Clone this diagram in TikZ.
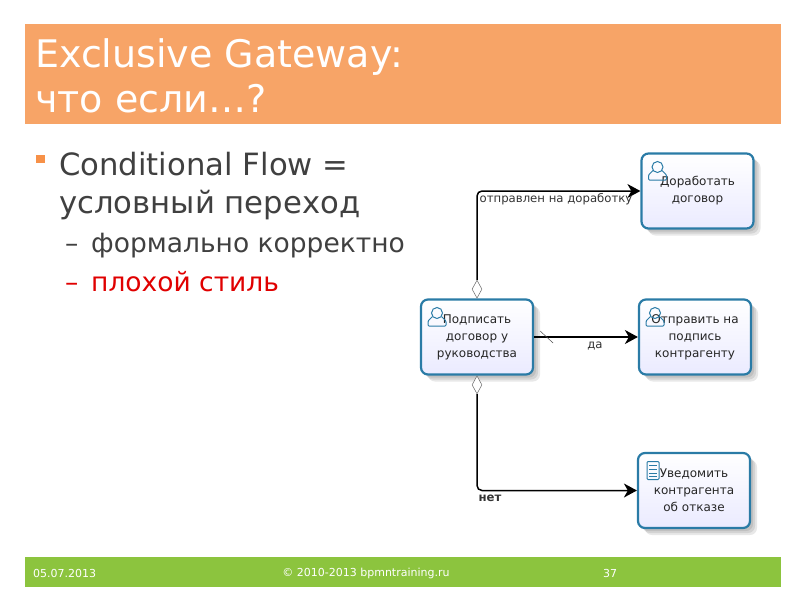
\documentclass[tikz,border=0pt]{standalone}
\usepackage{fontspec}
\setmainfont{DejaVu Sans}
\usetikzlibrary{arrows.meta,shapes.geometric,shadows}

\definecolor{titleorange}{HTML}{F7A467}
\definecolor{footgreen}{HTML}{8CC43E}
\definecolor{bulletorange}{HTML}{F79148}
\definecolor{taskblue}{HTML}{2A7BA6}
\definecolor{bodygray}{HTML}{404040}
\definecolor{stylered}{HTML}{E00000}

\tikzset{
    softshadow/.style={drop shadow={shadow xshift=#1,shadow yshift=-#1,fill=black,opacity=.09}},
    task/.style={draw=taskblue,line width=2.2pt,rounded corners=7pt,
        top color=white,bottom color=blue!8,
        minimum width=112pt,minimum height=75pt,align=center,
        font=\fontsize{12}{17}\selectfont,text=black!85,inner sep=0pt,
        softshadow=7pt,softshadow=5pt,softshadow=3pt},
    flow/.style={draw=black,line width=1.5pt,rounded corners=5pt,
        -{Stealth[length=13pt,width=14pt,inset=4pt]}},
    condmark/.style={diamond,draw=black!60,fill=white,line width=.5pt,
        minimum width=10pt,minimum height=18pt,inner sep=0pt},
    flowlabel/.style={font=\fontsize{11.7}{13}\selectfont,text=black!80,inner sep=0pt},
    titletext/.style={anchor=base west,text=white,inner sep=0pt,font=\fontsize{38}{44}\selectfont},
    bigtext/.style={anchor=base west,text=bodygray,inner sep=0pt,font=\fontsize{30.7}{33}\selectfont},
    subtext/.style={anchor=base west,inner sep=0pt,font=\fontsize{26.5}{28}\selectfont},
    foottext/.style={text=white,inner sep=0pt,font=\fontsize{11}{12}\selectfont},
    icon/.style={draw=taskblue,line width=1pt,rounded corners=1pt},
    usericon/.pic={
        \draw[icon] (-4.5,3.5) -- (-9,8) -- (-9,13) -- (9,13) -- (9,8) -- (4.5,3.5);
        \draw[icon] (0,0) circle (5.5);
    },
    docicon/.pic={
        \draw[icon] (-6,-9) rectangle (6,9);
        \foreach \y in {-5,-1,3,6}
            \draw[taskblue,line width=.6pt] (-4,\y) -- (4,\y);
    }
}

\begin{document}
\begin{tikzpicture}[x=1pt,y=-1pt]
    \useasboundingbox (0,0) rectangle (800,600);

    % шапка и подвал
    \fill[titleorange] (25,24) rectangle (781,124);
    \fill[footgreen] (25,557) rectangle (781,587);
    \node[titletext] (titleone) at (35,67) {Exclusive Gateway:};
    \node[titletext] (titletwo) at (35,112) {что если…?};
    \node[foottext,anchor=west] (footdate) at (33,573) {05.07.2013};
    \node[foottext] (footcopy) at (366,573) {© 2010-2013 bpmntraining.ru};
    \node[foottext] (footpage) at (610,573) {37};

    % текст слева
    \fill[bulletorange] (36,155) rectangle (45,163);
    \node[bigtext] (bigone) at (59,175) {Conditional Flow =};
    \node[bigtext] (bigtwo) at (59,213) {условный переход};
    \node[subtext,text=bodygray] (dashone) at (65,252) {–};
    \node[subtext,text=bodygray] (subone) at (91,252) {формально корректно};
    \node[subtext,text=stylered] (dashtwo) at (65,291) {–};
    \node[subtext,text=stylered] (subtwo) at (91,291) {плохой стиль};

    % задачи
    \node[task] (sign) at (477,337) {Подписать\\договор у\\руководства};
    \node[task] (rework) at (697.5,191) {Доработать\\договор};
    \node[task] (send) at (695,337) {Отправить на\\подпись\\контрагенту};
    \node[task] (notify) at (694,490.5) {Уведомить\\контрагента\\об отказе};

    \foreach \t in {sign,rework,send}
        \pic at ([shift={(-40,-24)}]\t.center) {usericon};
    \pic at ([shift={(-41,-20)}]notify.center) {docicon};

    % переходы
    \node[condmark,anchor=south] (condup) at (sign.north) {};
    \node[condmark,anchor=north] (conddown) at (sign.south) {};
    \draw[flow] (condup.north) |- (rework.west);
    \draw[flow] (conddown.south) |- (notify.west);
    \draw[flow,line width=1.8pt] (sign.east) -- (send.west);
    \draw[black!70,line width=.5pt] ([shift={(6,-6)}]sign.east) -- ([shift={(19,6)}]sign.east);

    \node[flowlabel] (labelrework) at (556,199) {отправлен на доработку};
    \node[flowlabel] (labelyes) at (595,346) {да};
    \node[flowlabel,font=\fontsize{11.7}{13}\selectfont\bfseries] (labelno) at (490,498) {нет};
\end{tikzpicture}
\end{document}
